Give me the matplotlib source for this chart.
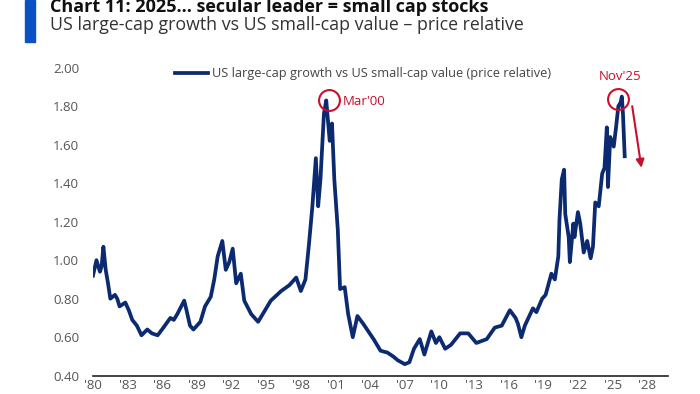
import numpy as np
import matplotlib
matplotlib.use("Agg")
import matplotlib.pyplot as plt
import matplotlib.patches as mpatches

plt.rcParams['font.family'] = ['Open Sans', 'DejaVu Sans']

# price relative (decimal year, ratio)
years = [1980.0, 1980.3, 1980.6, 1980.75, 1980.9, 1981.1, 1981.3, 1981.5, 1981.9, 1982.1,
         1982.3, 1982.8, 1983.1, 1983.4, 1983.8, 1984.2, 1984.7, 1985.1, 1985.6, 1986.1,
         1986.7, 1987.0, 1987.3, 1987.9, 1988.1, 1988.4, 1988.7, 1989.3, 1989.7, 1990.2,
         1990.5, 1990.8, 1991.2, 1991.5, 1991.8, 1992.1, 1992.4, 1992.8, 1993.1, 1993.7,
         1994.3, 1995.0, 1995.4, 1996.3, 1997.0, 1997.6, 1998.0, 1998.4, 1998.7, 1999.0,
         1999.3, 1999.5, 1999.7, 2000.0, 2000.2, 2000.5, 2000.7, 2000.9, 2001.2, 2001.4,
         2001.8, 2002.1, 2002.5, 2002.9, 2003.4, 2004.3, 2004.9, 2005.5, 2006.0, 2006.4,
         2007.0, 2007.4, 2007.8, 2008.3, 2008.7, 2009.3, 2009.7, 2010.0, 2010.5, 2011.0,
         2011.8, 2012.5, 2013.2, 2014.1, 2014.8, 2015.4, 2016.1, 2016.6, 2016.8, 2017.1,
         2017.4, 2018.1, 2018.4, 2018.9, 2019.2, 2019.7, 2020.0, 2020.3, 2020.4, 2020.6,
         2020.8, 2020.9, 2021.2, 2021.3, 2021.6, 2021.7, 2022.0, 2022.2, 2022.5, 2022.8,
         2023.1, 2023.3, 2023.5, 2023.8, 2024.1, 2024.3, 2024.5, 2024.6, 2024.8, 2025.1,
         2025.3, 2025.5, 2025.7, 2025.8, 2025.9, 2026.05]
ratio = [0.92, 1.00, 0.94, 0.97, 1.07, 0.95, 0.88, 0.80, 0.82, 0.80,
         0.76, 0.78, 0.74, 0.69, 0.66, 0.61, 0.64, 0.62, 0.61, 0.65,
         0.70, 0.69, 0.72, 0.79, 0.74, 0.66, 0.64, 0.68, 0.76, 0.81,
         0.90, 1.02, 1.10, 0.95, 0.99, 1.06, 0.88, 0.93, 0.79, 0.72,
         0.68, 0.75, 0.79, 0.84, 0.87, 0.91, 0.84, 0.90, 1.08, 1.28,
         1.53, 1.28, 1.42, 1.76, 1.83, 1.62, 1.71, 1.42, 1.16, 0.85,
         0.86, 0.72, 0.60, 0.71, 0.67, 0.59, 0.53, 0.52, 0.50, 0.48,
         0.46, 0.47, 0.54, 0.59, 0.51, 0.63, 0.57, 0.60, 0.54, 0.56,
         0.62, 0.62, 0.57, 0.59, 0.65, 0.66, 0.74, 0.70, 0.67, 0.60,
         0.66, 0.75, 0.73, 0.80, 0.82, 0.93, 0.90, 1.02, 1.21, 1.42,
         1.47, 1.24, 1.12, 0.99, 1.19, 1.12, 1.25, 1.19, 1.04, 1.10,
         1.01, 1.07, 1.30, 1.28, 1.45, 1.48, 1.69, 1.38, 1.64, 1.59,
         1.69, 1.80, 1.82, 1.85, 1.76, 1.54]

xtick_years = list(range(1980, 2029, 3))
xtick_labels = ["'" + str(y)[2:] for y in xtick_years]
ytick_vals = [0.40, 0.60, 0.80, 1.00, 1.20, 1.40, 1.60, 1.80, 2.00]

peaks = [(2000.4, 1.83, "Mar'00"), (2025.5, 1.835, "Nov'25")]

navy = '#0b2a6f'
red = '#c8102e'
grey = '#555555'

fig = plt.figure(figsize=(7, 3.94), dpi=100, facecolor='w')
ax = fig.add_axes([93/700, 1-375.7/394, 575/700, 308/394])

ax.plot(years, ratio, color=navy, lw=2.7, solid_joinstyle='round',
        label='US large-cap growth vs US small-cap value (price relative)')

ax.set_xlim(1980, 2029.8)
ax.set_ylim(0.4, 2.0)
ax.set_xticks(xtick_years)
ax.set_xticklabels(xtick_labels)
ax.set_yticks(ytick_vals)
ax.set_yticklabels(['%.2f' % v for v in ytick_vals])
ax.tick_params(axis='both', length=0, labelsize=9.5, labelcolor=grey)
ax.tick_params(axis='y', pad=10)
ax.tick_params(axis='x', pad=2.5)
for s in ['top', 'right', 'left']:
    ax.spines[s].set_visible(False)
ax.spines['bottom'].set_color('#222222')
ax.spines['bottom'].set_linewidth(1.2)

# peak markers
for px, py, txt in peaks:
    ax.plot([px], [py], marker='o', ms=15, mfc='none', mec=red, mew=1.5)
ax.text(2001.6, 1.825, peaks[0][2], color=red, fontsize=9.5, va='center', ha='left')
ax.text(2025.65, 1.955, peaks[1][2], color=red, fontsize=9.5, va='center', ha='center')
ax.annotate('', xy=(2027.5, 1.48), xytext=(2026.7, 1.80),
            arrowprops=dict(arrowstyle='-|>', color=red, lw=1.5,
                            mutation_scale=12, shrinkA=0, shrinkB=0))

leg = ax.legend(loc='center', bbox_to_anchor=(0.47, 0.98), frameon=False,
                fontsize=9.2, handlelength=2.6, handletextpad=0.3,
                borderaxespad=0)
for t in leg.get_texts():
    t.set_color('#444444')

# header
fig.patches.append(mpatches.Rectangle((25/700, 1-42/394), 10/700, 42/394,
                                      transform=fig.transFigure, color='#0a52c4'))
fig.text(50/700, 1-12.5/394, "Chart 11: 2025... secular leader = small cap stocks",
         fontsize=13, fontweight='bold', color='#111111', va='baseline')
fig.text(50/700, 1-30/394, "US large-cap growth vs US small-cap value \u2013 price relative",
         fontsize=12.8, color='#333333', va='baseline')

fig.savefig('out.png', dpi=100)
